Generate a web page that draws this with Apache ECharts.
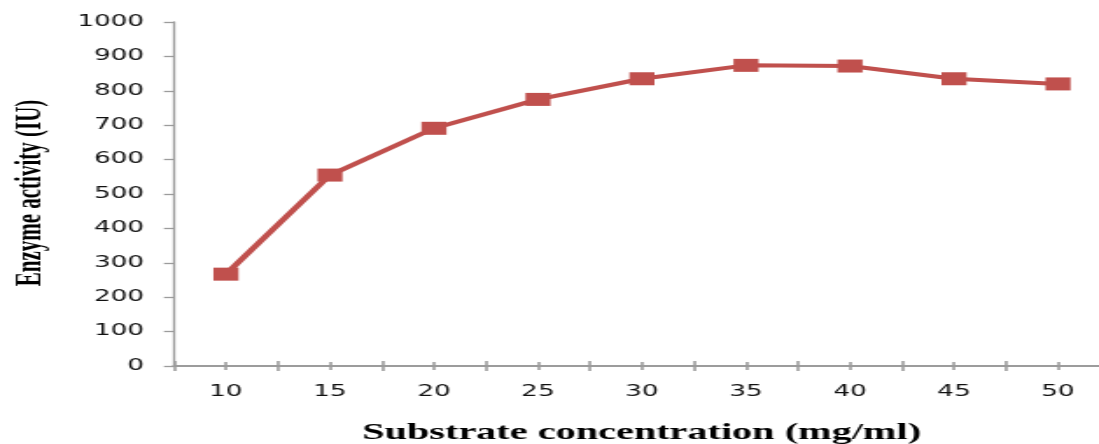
<!DOCTYPE html>
<html>
<head>
<meta charset="utf-8">
<script src="https://cdn.jsdelivr.net/npm/echarts@6/dist/echarts.min.js"></script>
<style>
  html, body { margin: 0; padding: 0; background: #fff; overflow: hidden; width: 1099px; height: 444px; }
  #chart { width: 640px; height: 444px; transform: scaleX(1.75); transform-origin: 0 0; }
</style>
</head>
<body>
<div id="chart"></div>
<script>
// Data
const categories = ['10', '15', '20', '25', '30', '35', '40', '45', '50'];
const enzymeActivity = [267, 555, 691, 775, 835, 874, 872, 835, 820];
const yTicks = { min: 0, max: 1000, interval: 100 };
const xTitle = 'Substrate concentration (mg/ml)';
const yTitle = 'Enzyme activity (IU)';

const axisGray = '#9c9c9c';
const red = '#C0504D';
const labelFont = { fontFamily: 'DejaVu Sans', fontSize: 15, color: '#111' };

const gridBox = { left: 99.4, top: 22, width: 534.9, height: 344 };

function tickAxis(align, inside, len, show, labels) {
  return {
    type: 'category',
    data: categories,
    boundaryGap: true,
    position: 'bottom',
    axisLine: { show: show, lineStyle: { color: axisGray, width: 2 } },
    axisTick: { show: true, alignWithLabel: align, inside: inside, length: len,
                lineStyle: { color: axisGray, width: 1.6 } },
    axisLabel: labels ? Object.assign({ show: true, margin: 19 }, labelFont) : { show: false },
    splitLine: { show: false }
  };
}

const chart = echarts.init(document.getElementById('chart'));
chart.setOption({
  animation: false,
  backgroundColor: '#fff',
  grid: gridBox,
  xAxis: [
    tickAxis(false, false, 5, true, true),
    tickAxis(false, true, 5, false, false),
    tickAxis(true, false, 4, false, false),
    tickAxis(true, true, 4, false, false)
  ],
  yAxis: {
    type: 'value',
    min: yTicks.min,
    max: yTicks.max,
    interval: yTicks.interval,
    axisLine: { show: true, lineStyle: { color: axisGray, width: 1.3 } },
    axisTick: { show: true, length: 5.7, lineStyle: { color: axisGray, width: 1.3 } },
    axisLabel: Object.assign({ margin: 17, formatter: function (v) { return String(v); } }, labelFont),
    splitLine: { show: false }
  },
  graphic: [
    {
      type: 'text',
      x: 366.6, y: 433,
      style: { text: xTitle, font: 'bold 23px "Liberation Serif"', fill: '#000',
               textAlign: 'center', textVerticalAlign: 'middle' }
    },
    {
      type: 'text',
      x: 17.1, y: 193,
      rotation: Math.PI / 2,
      style: { text: yTitle, font: 'bold 21px "Liberation Serif"', fill: '#000',
               textAlign: 'center', textVerticalAlign: 'middle' }
    }
  ],
  series: [{
    type: 'line',
    xAxisIndex: 0,
    data: enzymeActivity,
    symbol: 'rect',
    symbolSize: [14.3, 13],
    lineStyle: { color: red, width: 4 },
    itemStyle: { color: red },
    clip: false
  }]
});
</script>
</body>
</html>
